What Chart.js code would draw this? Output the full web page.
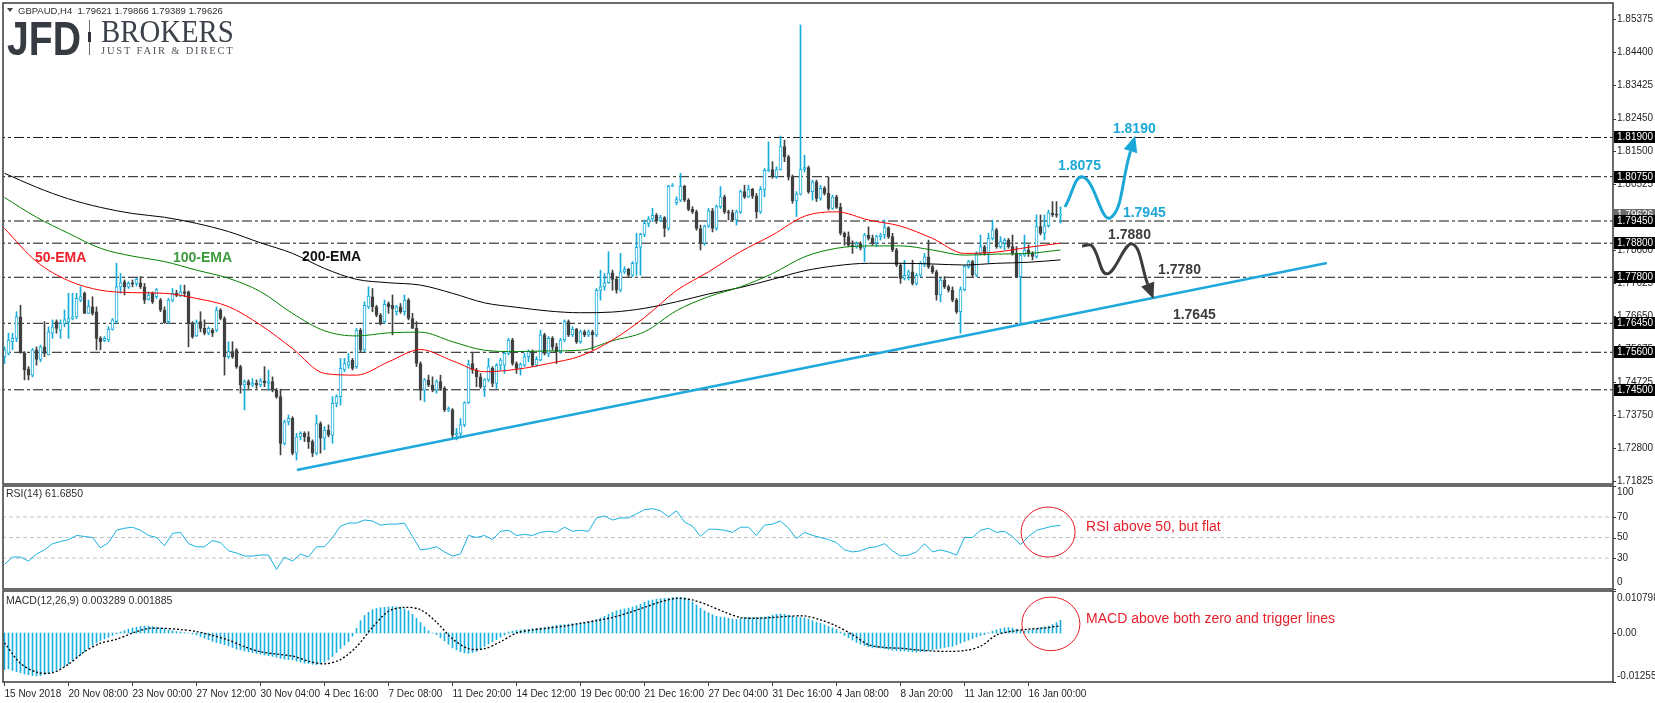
<!DOCTYPE html>
<html>
<head>
<meta charset="utf-8">
<title>GBPAUD H4</title>
<script src="https://cdn.jsdelivr.net/npm/chart.js@4.4.1/dist/chart.umd.min.js"></script>
<style>
  html, body { margin: 0; padding: 0; background: #fff; }
  #wrap { position: relative; width: 1655px; height: 703px; overflow: hidden; background: #fff; }
  #wrap canvas { position: absolute; left: 0; }
  #priceChart { top: 0; }
  #rsiChart { top: 484px; }
  #macdChart { top: 589px; }
</style>
</head>
<body>
<div id="wrap">
  <canvas id="priceChart" width="1655" height="486"></canvas>
  <canvas id="rsiChart" width="1655" height="107"></canvas>
  <canvas id="macdChart" width="1655" height="114"></canvas>
</div>
<script>
// GBPAUD H4, 15 Nov 2018 -> 17 Jan 2019, one value per 4h bar
const opens = [
  1.7547, 1.7557, 1.7591, 1.7601, 1.7664, 1.7557, 1.7510, 1.7493, 1.7567, 1.7539,
  1.7576, 1.7552, 1.7616, 1.7650, 1.7625, 1.7645, 1.7650, 1.7659, 1.7664, 1.7713,
  1.7733, 1.7674, 1.7693, 1.7679, 1.7601, 1.7594, 1.7596, 1.7627, 1.7650, 1.7752,
  1.7767, 1.7752, 1.7764, 1.7762, 1.7764, 1.7752, 1.7715, 1.7733, 1.7723, 1.7713,
  1.7684, 1.7650, 1.7713, 1.7733, 1.7725, 1.7737, 1.7737, 1.7645, 1.7608, 1.7650,
  1.7630, 1.7616, 1.7625, 1.7625, 1.7684, 1.7659, 1.7547, 1.7562, 1.7567, 1.7518,
  1.7464, 1.7474, 1.7464, 1.7469, 1.7464, 1.7476, 1.7469, 1.7474, 1.7449, 1.7430,
  1.7293, 1.7356, 1.7366, 1.7264, 1.7312, 1.7322, 1.7312, 1.7298, 1.7264, 1.7351,
  1.7308, 1.7332, 1.7317, 1.7410, 1.7430, 1.7508, 1.7522, 1.7537, 1.7518, 1.7625,
  1.7567, 1.7693, 1.7723, 1.7693, 1.7669, 1.7650, 1.7703, 1.7698, 1.7679, 1.7693,
  1.7679, 1.7713, 1.7659, 1.7630, 1.7527, 1.7449, 1.7479, 1.7464, 1.7449, 1.7474,
  1.7454, 1.7391, 1.7391, 1.7317, 1.7322, 1.7347, 1.7412, 1.7527, 1.7508, 1.7488,
  1.7459, 1.7479, 1.7513, 1.7469, 1.7522, 1.7522, 1.7557, 1.7596, 1.7527, 1.7513,
  1.7522, 1.7547, 1.7562, 1.7522, 1.7537, 1.7611, 1.7557, 1.7601, 1.7576, 1.7562,
  1.7596, 1.7650, 1.7611, 1.7627, 1.7591, 1.7620, 1.7611, 1.7620, 1.7611, 1.7742,
  1.7752, 1.7764, 1.7793, 1.7774, 1.7742, 1.7796, 1.7803, 1.7786, 1.7821, 1.7868,
  1.7906, 1.7938, 1.7951, 1.7962, 1.7946, 1.7955, 1.7923, 1.8047, 1.7999, 1.8006,
  1.8047, 1.8006, 1.7979, 1.7972, 1.7923, 1.7879, 1.7930, 1.7975, 1.7923, 1.7987,
  1.8016, 1.7972, 1.7969, 1.7948, 1.7972, 1.8031, 1.8016, 1.8038, 1.8018, 1.7972,
  1.8038, 1.8092, 1.8096, 1.8075, 1.8096, 1.8163, 1.8133, 1.8075, 1.8004, 1.8024,
  1.8096, 1.8102, 1.8031, 1.8060, 1.8011, 1.8041, 1.8026, 1.7982, 1.8016, 1.7985,
  1.7909, 1.7899, 1.7874, 1.7870, 1.7879, 1.7865, 1.7904, 1.7894, 1.7881, 1.7899,
  1.7904, 1.7926, 1.7899, 1.7860, 1.7816, 1.7777, 1.7786, 1.7796, 1.7762, 1.7786,
  1.7821, 1.7840, 1.7811, 1.7796, 1.7728, 1.7772, 1.7752, 1.7742, 1.7713, 1.7679,
  1.7744, 1.7811, 1.7826, 1.7786, 1.7850, 1.7869, 1.7851, 1.7894, 1.7919, 1.7870,
  1.7880, 1.7889, 1.7870, 1.7850, 1.7782, 1.7845, 1.7860, 1.7850, 1.7841, 1.7929,
  1.7909, 1.7931, 1.7968, 1.7963, 1.79621
];
const highs = [
  1.7576, 1.7616, 1.7616, 1.7679, 1.7698, 1.7562, 1.7518, 1.7571, 1.7576, 1.7581,
  1.7650, 1.7635, 1.7655, 1.7655, 1.7655, 1.7684, 1.7733, 1.7733, 1.7733, 1.7752,
  1.7737, 1.7713, 1.7723, 1.7693, 1.7606, 1.7606, 1.7635, 1.7659, 1.7821, 1.7791,
  1.7772, 1.7767, 1.7772, 1.7777, 1.7782, 1.7762, 1.7737, 1.7737, 1.7747, 1.7718,
  1.7693, 1.7718, 1.7747, 1.7742, 1.7757, 1.7757, 1.7740, 1.7650, 1.7655, 1.7679,
  1.7655, 1.7635, 1.7630, 1.7693, 1.7688, 1.7664, 1.7591, 1.7591, 1.7571, 1.7522,
  1.7479, 1.7479, 1.7483, 1.7479, 1.7483, 1.7518, 1.7508, 1.7488, 1.7454, 1.7452,
  1.7361, 1.7376, 1.7371, 1.7322, 1.7327, 1.7327, 1.7327, 1.7303, 1.7376, 1.7356,
  1.7342, 1.7347, 1.7430, 1.7435, 1.7542, 1.7542, 1.7557, 1.7542, 1.7630, 1.7630,
  1.7708, 1.7752, 1.7747, 1.7698, 1.7674, 1.7713, 1.7708, 1.7728, 1.7698, 1.7703,
  1.7728, 1.7718, 1.7674, 1.7650, 1.7532, 1.7483, 1.7493, 1.7488, 1.7479, 1.7493,
  1.7459, 1.7400, 1.7395, 1.7337, 1.7366, 1.7415, 1.7537, 1.7557, 1.7513, 1.7498,
  1.7483, 1.7542, 1.7518, 1.7527, 1.7542, 1.7562, 1.7601, 1.7601, 1.7532, 1.7529,
  1.7557, 1.7567, 1.7567, 1.7547, 1.7625, 1.7616, 1.7606, 1.7606, 1.7586, 1.7601,
  1.7655, 1.7655, 1.7635, 1.7630, 1.7625, 1.7625, 1.7625, 1.7625, 1.7747, 1.7801,
  1.7791, 1.7855, 1.7801, 1.7782, 1.7850, 1.7811, 1.7806, 1.7826, 1.7909, 1.7909,
  1.7948, 1.7958, 1.7982, 1.7967, 1.7962, 1.7958, 1.8050, 1.8055, 1.8016, 1.8085,
  1.8050, 1.8011, 1.7987, 1.7977, 1.7933, 1.7933, 1.7982, 1.7982, 1.7992, 1.8046,
  1.8021, 1.7977, 1.7977, 1.7977, 1.8036, 1.8050, 1.8050, 1.8041, 1.8026, 1.8046,
  1.8099, 1.8177, 1.8119, 1.8104, 1.8194, 1.8182, 1.8138, 1.8080, 1.8031, 1.8520,
  1.8138, 1.8106, 1.8065, 1.8065, 1.8050, 1.8046, 1.8075, 1.8021, 1.8021, 1.7997,
  1.7913, 1.7913, 1.7887, 1.7884, 1.7884, 1.7909, 1.7928, 1.7904, 1.7904, 1.7909,
  1.7948, 1.7928, 1.7909, 1.7865, 1.7821, 1.7830, 1.7801, 1.7830, 1.7791, 1.7826,
  1.7850, 1.7889, 1.7816, 1.7801, 1.7777, 1.7782, 1.7757, 1.7752, 1.7718, 1.7752,
  1.7816, 1.7830, 1.7830, 1.7855, 1.7904, 1.7874, 1.7909, 1.7948, 1.7924, 1.7899,
  1.7894, 1.7894, 1.7904, 1.7870, 1.7850, 1.7904, 1.7875, 1.7855, 1.7963, 1.7963,
  1.7963, 1.7977, 1.8002, 1.8002, 1.79866
];
const lows = [
  1.7527, 1.7552, 1.7567, 1.7591, 1.7557, 1.7479, 1.7479, 1.7488, 1.7522, 1.7532,
  1.7547, 1.7552, 1.7601, 1.7616, 1.7601, 1.7635, 1.7601, 1.7655, 1.7659, 1.7708,
  1.7674, 1.7674, 1.7669, 1.7567, 1.7567, 1.7591, 1.7591, 1.7625, 1.7645, 1.7733,
  1.7728, 1.7747, 1.7752, 1.7754, 1.7747, 1.7703, 1.7713, 1.7703, 1.7718, 1.7679,
  1.7645, 1.7645, 1.7708, 1.7723, 1.7723, 1.7723, 1.7576, 1.7601, 1.7606, 1.7620,
  1.7611, 1.7611, 1.7606, 1.7620, 1.7655, 1.7493, 1.7542, 1.7542, 1.7513, 1.7440,
  1.7391, 1.7454, 1.7459, 1.7454, 1.7459, 1.7459, 1.7449, 1.7444, 1.7425, 1.7259,
  1.7288, 1.7347, 1.7259, 1.7244, 1.7303, 1.7298, 1.7278, 1.7254, 1.7259, 1.7264,
  1.7274, 1.7312, 1.7293, 1.7400, 1.7405, 1.7503, 1.7513, 1.7508, 1.7513, 1.7562,
  1.7562, 1.7688, 1.7679, 1.7664, 1.7640, 1.7645, 1.7674, 1.7611, 1.7669, 1.7674,
  1.7669, 1.7655, 1.7630, 1.7518, 1.7420, 1.7415, 1.7459, 1.7444, 1.7440, 1.7449,
  1.7386, 1.7386, 1.7308, 1.7303, 1.7312, 1.7342, 1.7410, 1.7498, 1.7459, 1.7454,
  1.7430, 1.7474, 1.7459, 1.7454, 1.7508, 1.7498, 1.7552, 1.7522, 1.7498, 1.7493,
  1.7518, 1.7532, 1.7518, 1.7518, 1.7535, 1.7552, 1.7547, 1.7567, 1.7527, 1.7557,
  1.7591, 1.7606, 1.7606, 1.7586, 1.7586, 1.7606, 1.7606, 1.7567, 1.7606, 1.7713,
  1.7742, 1.7762, 1.7742, 1.7733, 1.7737, 1.7791, 1.7782, 1.7782, 1.7786, 1.7786,
  1.7899, 1.7928, 1.7943, 1.7938, 1.7943, 1.7899, 1.7918, 1.8046, 1.7992, 1.8002,
  1.8002, 1.7975, 1.7967, 1.7918, 1.7860, 1.7874, 1.7926, 1.7913, 1.7918, 1.7982,
  1.7967, 1.7948, 1.7943, 1.7933, 1.7967, 1.8011, 1.8014, 1.8011, 1.7953, 1.7967,
  1.8016, 1.8089, 1.8070, 1.8070, 1.8094, 1.8119, 1.8065, 1.7997, 1.7958, 1.8021,
  1.8089, 1.8026, 1.8006, 1.8002, 1.8006, 1.8021, 1.7977, 1.7979, 1.7982, 1.7904,
  1.7874, 1.7870, 1.7850, 1.7865, 1.7860, 1.7826, 1.7889, 1.7874, 1.7870, 1.7889,
  1.7894, 1.7894, 1.7855, 1.7811, 1.7762, 1.7772, 1.7772, 1.7757, 1.7757, 1.7782,
  1.7811, 1.7806, 1.7791, 1.7713, 1.7708, 1.7747, 1.7737, 1.7708, 1.7674, 1.7616,
  1.7740, 1.7806, 1.7782, 1.7782, 1.7845, 1.7845, 1.7821, 1.7889, 1.7865, 1.7865,
  1.7860, 1.7865, 1.7845, 1.7780, 1.7645, 1.7841, 1.7841, 1.7831, 1.7836, 1.7904,
  1.7889, 1.7927, 1.7958, 1.7956, 1.79389
];
const closes = [
  1.7567, 1.7596, 1.7601, 1.7664, 1.7562, 1.7508, 1.7493, 1.7567, 1.7539, 1.7576,
  1.7557, 1.7620, 1.7635, 1.7630, 1.7645, 1.7655, 1.7659, 1.7664, 1.7718, 1.7723,
  1.7674, 1.7695, 1.7674, 1.7601, 1.7591, 1.7601, 1.7627, 1.7655, 1.7752, 1.7764,
  1.7752, 1.7762, 1.7760, 1.7774, 1.7752, 1.7713, 1.7728, 1.7708, 1.7744, 1.7684,
  1.7647, 1.7713, 1.7733, 1.7727, 1.7737, 1.7733, 1.7645, 1.7606, 1.7647, 1.7630,
  1.7616, 1.7630, 1.7616, 1.7684, 1.7659, 1.7547, 1.7562, 1.7547, 1.7518, 1.7464,
  1.7474, 1.7464, 1.7469, 1.7464, 1.7476, 1.7471, 1.7474, 1.7449, 1.7430, 1.7293,
  1.7356, 1.7366, 1.7264, 1.7312, 1.7322, 1.7312, 1.7298, 1.7264, 1.7351, 1.7308,
  1.7332, 1.7317, 1.7410, 1.7430, 1.7513, 1.7527, 1.7532, 1.7513, 1.7625, 1.7567,
  1.7698, 1.7725, 1.7693, 1.7669, 1.7645, 1.7701, 1.7693, 1.7688, 1.7693, 1.7679,
  1.7713, 1.7659, 1.7630, 1.7527, 1.7449, 1.7479, 1.7464, 1.7449, 1.7474, 1.7454,
  1.7391, 1.7395, 1.7317, 1.7322, 1.7347, 1.7412, 1.7524, 1.7508, 1.7488, 1.7459,
  1.7479, 1.7518, 1.7469, 1.7522, 1.7537, 1.7557, 1.7596, 1.7527, 1.7513, 1.7524,
  1.7547, 1.7562, 1.7522, 1.7539, 1.7611, 1.7557, 1.7601, 1.7576, 1.7562, 1.7596,
  1.7650, 1.7611, 1.7627, 1.7591, 1.7620, 1.7611, 1.7620, 1.7611, 1.7742, 1.7752,
  1.7764, 1.7793, 1.7774, 1.7742, 1.7796, 1.7803, 1.7786, 1.7821, 1.7868, 1.7906,
  1.7938, 1.7951, 1.7962, 1.7946, 1.7955, 1.7923, 1.8047, 1.8050, 1.8008, 1.8047,
  1.8006, 1.7979, 1.7972, 1.7923, 1.7879, 1.7930, 1.7975, 1.7923, 1.7987, 1.8016,
  1.7972, 1.7969, 1.7948, 1.7972, 1.8031, 1.8016, 1.8038, 1.8018, 1.7972, 1.8038,
  1.8094, 1.8096, 1.8075, 1.8096, 1.8163, 1.8133, 1.8075, 1.8004, 1.8024, 1.8096,
  1.8102, 1.8031, 1.8060, 1.8011, 1.8041, 1.8026, 1.7982, 1.8016, 1.7985, 1.7909,
  1.7899, 1.7874, 1.7870, 1.7879, 1.7865, 1.7904, 1.7894, 1.7881, 1.7899, 1.7904,
  1.7926, 1.7899, 1.7860, 1.7816, 1.7777, 1.7786, 1.7796, 1.7762, 1.7786, 1.7821,
  1.7840, 1.7811, 1.7796, 1.7728, 1.7772, 1.7752, 1.7742, 1.7713, 1.7679, 1.7744,
  1.7811, 1.7826, 1.7786, 1.7850, 1.7870, 1.7851, 1.7894, 1.7919, 1.7870, 1.7885,
  1.7889, 1.7870, 1.7850, 1.7782, 1.7845, 1.7860, 1.7850, 1.7841, 1.7929, 1.7909,
  1.7931, 1.7970, 1.7963, 1.7962, 1.79626
];

// moving averages read every 8 bars
const emaStep = 8;
const ema50 = [1.7923, 1.7826, 1.7770, 1.7742, 1.7735, 1.7733, 1.7718, 1.7694, 1.7640, 1.7571,
  1.7498, 1.7493, 1.7532, 1.7568, 1.7535, 1.7503, 1.7510, 1.7527, 1.7549, 1.7596,
  1.7662, 1.7741, 1.7796, 1.7855, 1.7904, 1.7959, 1.7972, 1.7948, 1.7930, 1.7894,
  1.7850, 1.7854, 1.7868, 1.7880];
const ema100 = [1.8014, 1.7956, 1.7909, 1.7865, 1.7842, 1.7826, 1.7801, 1.7777, 1.7738, 1.7674,
  1.7623, 1.7608, 1.7617, 1.7619, 1.7591, 1.7566, 1.7562, 1.7564, 1.7566, 1.7594,
  1.7620, 1.7682, 1.7723, 1.7752, 1.7791, 1.7840, 1.7865, 1.7872, 1.7872, 1.7860,
  1.7845, 1.7848, 1.7850, 1.7860];
const ema200 = [1.8085, 1.8044, 1.8010, 1.7985, 1.7967, 1.7956, 1.7938, 1.7914, 1.7881, 1.7850,
  1.7806, 1.7774, 1.7764, 1.7757, 1.7733, 1.7705, 1.7692, 1.7681, 1.7676, 1.7678,
  1.7689, 1.7708, 1.7731, 1.7750, 1.7774, 1.7799, 1.7814, 1.7821, 1.7821, 1.7819,
  1.7816, 1.7821, 1.7824, 1.7831];

const levels = [1.8190, 1.8075, 1.7945, 1.7880, 1.7780, 1.7645, 1.7560, 1.7450];
const lastPrice = 1.79626;
const priceTicks = [1.85375, 1.84400, 1.83425, 1.82450, 1.81500, 1.80525, 1.79550, 1.78600,
  1.77625, 1.76650, 1.75675, 1.74725, 1.73750, 1.72800, 1.71825];

// rising trend line (bar index, price)
const trendBars = [73.1, 330.6];
const trendPrices = [1.7215, 1.7822];

// RSI(14) read every 2 bars
const rsiStep = 2;
const rsi = [
  24, 31, 31, 27, 34, 38, 44, 46, 48, 52,
  51, 50, 40, 45, 57, 59, 60, 57, 52, 50,
  42, 54, 55, 44, 41, 41, 47, 45, 37, 35,
  32, 32, 33, 33, 19, 31, 27, 34, 31, 41,
  41, 50, 61, 64, 64, 67, 66, 62, 63, 63,
  64, 51, 38, 39, 41, 36, 32, 34, 52, 50,
  52, 48, 56, 57, 52, 53, 52, 55, 56, 55,
  60, 56, 57, 56, 69, 71, 67, 69, 69, 73,
  77, 78, 76, 70, 76, 65, 61, 51, 58, 58,
  57, 55, 60, 60, 52, 62, 63, 66, 59, 49,
  55, 52, 50, 48, 45, 38, 36, 37, 40, 41,
  44, 37, 32, 33, 36, 44, 36, 38, 36, 33,
  50, 50, 57, 59, 55, 56, 51, 43, 51, 57,
  59, 61, 61.685
];
const rsiLevels = [30, 50, 70];
const rsiTicks = [100, 70, 50, 30, 0];

// MACD(12,26,9): main as histogram (every bar), signal read every 4 bars
const macdHist = [
  -0.0094, -0.0092, -0.0096, -0.0099, -0.0102, -0.0105, -0.0107, -0.0109, -0.0110, -0.0109,
  -0.0106, -0.0103, -0.0099, -0.0095, -0.0091, -0.0085, -0.0079, -0.0071, -0.0063, -0.0056,
  -0.0048, -0.0039, -0.0031, -0.0025, -0.0019, -0.0015, -0.0011, -0.0006, -0.0002, 0.0003,
  0.0006, 0.0010, 0.0013, 0.0015, 0.0017, 0.0018, 0.0018, 0.0017, 0.0015, 0.0013,
  0.0011, 0.0008, 0.0006, 0.0004, 0.0003, 0.0001, 0.0000, -0.0002, -0.0005, -0.0009,
  -0.0013, -0.0017, -0.0021, -0.0024, -0.0027, -0.0030, -0.0033, -0.0037, -0.0041, -0.0043,
  -0.0046, -0.0048, -0.0050, -0.0052, -0.0054, -0.0056, -0.0058, -0.0060, -0.0062, -0.0065,
  -0.0067, -0.0068, -0.0069, -0.0072, -0.0075, -0.0077, -0.0078, -0.0080, -0.0081, -0.0079,
  -0.0074, -0.0069, -0.0060, -0.0050, -0.0040, -0.0031, -0.0022, -0.0008, 0.0012, 0.0032,
  0.0045, 0.0053, 0.0060, 0.0063, 0.0065, 0.0066, 0.0067, 0.0068, 0.0067, 0.0066,
  0.0062, 0.0057, 0.0048, 0.0038, 0.0027, 0.0016, 0.0006, 0.0000, -0.0004, -0.0012,
  -0.0020, -0.0029, -0.0038, -0.0043, -0.0048, -0.0051, -0.0052, -0.0050, -0.0047, -0.0041,
  -0.0034, -0.0028, -0.0022, -0.0017, -0.0011, -0.0005, 0.0003, 0.0005, 0.0007, 0.0008,
  0.0009, 0.0010, 0.0011, 0.0012, 0.0013, 0.0015, 0.0016, 0.0018, 0.0020, 0.0021,
  0.0022, 0.0023, 0.0024, 0.0025, 0.0026, 0.0027, 0.0029, 0.0032, 0.0035, 0.0039,
  0.0043, 0.0048, 0.0053, 0.0057, 0.0060, 0.0062, 0.0064, 0.0067, 0.0070, 0.0074,
  0.0079, 0.0083, 0.0085, 0.0087, 0.0088, 0.0089, 0.0090, 0.0091, 0.0092, 0.0092,
  0.0091, 0.0088, 0.0080, 0.0072, 0.0064, 0.0057, 0.0052, 0.0047, 0.0043, 0.0041,
  0.0040, 0.0038, 0.0036, 0.0035, 0.0037, 0.0040, 0.0040, 0.0039, 0.0040, 0.0041,
  0.0041, 0.0043, 0.0046, 0.0048, 0.0049, 0.0048, 0.0046, 0.0043, 0.0041, 0.0040,
  0.0039, 0.0036, 0.0032, 0.0028, 0.0025, 0.0021, 0.0017, 0.0013, 0.0009, 0.0003,
  -0.0006, -0.0012, -0.0018, -0.0024, -0.0028, -0.0032, -0.0035, -0.0037, -0.0038, -0.0038,
  -0.0040, -0.0042, -0.0044, -0.0045, -0.0046, -0.0046, -0.0047, -0.0048, -0.0049, -0.0048,
  -0.0047, -0.0045, -0.0043, -0.0041, -0.0039, -0.0037, -0.0035, -0.0034, -0.0030, -0.0026,
  -0.0022, -0.0018, -0.0014, -0.0010, -0.0006, -0.0004, 0.0001, 0.0005, 0.0008, 0.0011,
  0.0013, 0.0014, 0.0013, 0.0010, 0.0006, 0.0005, 0.0007, 0.0009, 0.0011, 0.0014,
  0.0016, 0.0018, 0.0022, 0.0027, 0.003289
];
const signalStep = 4;
const macdSignal = [
  -0.0025, -0.0078, -0.0100, -0.0102, -0.0080, -0.0048, -0.0026, -0.0016, 0.0000, 0.0012,
  0.0012, 0.0009, 0.0004, -0.0006, -0.0018, -0.0035, -0.0048, -0.0054, -0.0059, -0.0072,
  -0.0079, -0.0068, -0.0035, 0.0015, 0.0056, 0.0066, 0.0060, 0.0028, -0.0015, -0.0040,
  -0.0040, -0.0022, 0.0000, 0.0008, 0.0013, 0.0018, 0.0025, 0.0032, 0.0040, 0.0052,
  0.0066, 0.0080, 0.0089, 0.0085, 0.0071, 0.0054, 0.0040, 0.0038, 0.0040, 0.0043,
  0.0044, 0.0034, 0.0018, -0.0004, -0.0030, -0.0037, -0.0039, -0.0043, -0.0046, -0.0047,
  -0.0045, -0.0034, -0.0005, 0.0005, 0.0010, 0.0013, 0.001885
];
const macdTicks = [0.010798, 0, -0.012557];

// time axis: one label every 16 bars
const timeStep = 16;
const timeLabels = ['15 Nov 2018', '20 Nov 08:00', '23 Nov 00:00', '27 Nov 12:00', '30 Nov 04:00',
  '4 Dec 16:00', '7 Dec 08:00', '11 Dec 20:00', '14 Dec 12:00', '19 Dec 00:00', '21 Dec 16:00',
  '27 Dec 04:00', '31 Dec 16:00', '4 Jan 08:00', '8 Jan 20:00', '11 Jan 12:00', '16 Jan 00:00'];

// drawn scenario paths (bar index, price)
const upWave = { bars: [265.1, 269.6, 276.4, 281.5], prices: [1.7986, 1.8074, 1.7954, 1.8150] };
const downWave = { bars: [269.4, 271.9, 275.6, 281.9, 285.8], prices: [1.7872, 1.7872, 1.7790, 1.7878, 1.7760] };

const BULL = '#17acdb';
const BEAR = '#404040';
const CYAN = '#1ba8d6';
const DARK = '#3c3c3c';
const RED = '#e61f2b';
const FONT = '"Liberation Sans", Arial, sans-serif';
const X_MIN = -0.375;
const X_MAX = 402.125;

const notes = [
  { text: '50-EMA', bar: 7.6, price: 1.7837, color: '#f0202a' },
  { text: '100-EMA', bar: 42.1, price: 1.7837, color: '#3c9c3c' },
  { text: '200-EMA', bar: 74.4, price: 1.7840, color: '#111111' },
  { text: '1.8190', bar: 277.1, price: 1.8215, color: CYAN },
  { text: '1.8075', bar: 263.4, price: 1.8106, color: CYAN },
  { text: '1.7945', bar: 279.6, price: 1.7969, color: CYAN },
  { text: '1.7880', bar: 275.9, price: 1.7904, color: DARK },
  { text: '1.7780', bar: 288.4, price: 1.7801, color: DARK },
  { text: '1.7645', bar: 292.1, price: 1.7670, color: DARK }
];
const rsiNote = { bar: 260.9, value: 55.3, rBars: 6.75, rValue: 24.3, text: 'RSI above 50, but flat', textBar: 270.4, textValue: 60.2 };
const macdNote = { bar: 261.6, value: 0.00236, rBars: 7.25, rValue: 0.00688, text: 'MACD above both zero and trigger lines', textBar: 270.4, textValue: 0.00353 };

Chart.defaults.font.family = FONT;

const stepPoints = (arr, step) => arr.map((y, k) => ({ x: k * step, y }));
const pairPoints = (xs, ys) => xs.map((x, k) => ({ x, y: ys[k] }));
const flatLine = v => [{ x: X_MIN - 2, y: v }, { x: X_MAX + 2, y: v }];
const candleUp = i => closes[i] >= opens[i];

function drawFrame(chart) {
  const { ctx, chartArea: a } = chart;
  ctx.save();
  ctx.strokeStyle = '#3a3a3a';
  ctx.lineWidth = 1.5;
  ctx.strokeRect(a.left, a.top, a.right - a.left, a.bottom - a.top);
  ctx.restore();
}

function drawAxisLabels(chart, values, fmt, padTop, padBottom) {
  const { ctx, chartArea: a, scales: { y } } = chart;
  ctx.save();
  ctx.font = '10px ' + FONT;
  ctx.fillStyle = '#1f1f1f';
  ctx.strokeStyle = '#3a3a3a';
  ctx.lineWidth = 1;
  ctx.textBaseline = 'middle';
  values.forEach(v => {
    const py = y.getPixelForValue(v);
    ctx.beginPath();
    ctx.moveTo(a.right, Math.round(py) + 0.5);
    ctx.lineTo(a.right + 3, Math.round(py) + 0.5);
    ctx.stroke();
    const ty = Math.min(Math.max(py, a.top + padTop), a.bottom - padBottom);
    ctx.fillText(fmt(v), a.right + 4, ty);
  });
  ctx.restore();
}

function drawNoteCircle(chart, note) {
  const { ctx, scales: { x, y } } = chart;
  const cx = x.getPixelForValue(note.bar);
  const cy = y.getPixelForValue(note.value);
  const rx = x.getPixelForValue(note.bar + note.rBars) - cx;
  const ry = y.getPixelForValue(note.value - note.rValue) - cy;
  ctx.save();
  ctx.strokeStyle = RED;
  ctx.lineWidth = 1;
  ctx.beginPath();
  ctx.ellipse(cx, cy, rx, ry, 0, 0, Math.PI * 2);
  ctx.stroke();
  ctx.fillStyle = RED;
  ctx.font = '14px ' + FONT;
  ctx.textBaseline = 'middle';
  ctx.fillText(note.text, x.getPixelForValue(note.textBar), y.getPixelForValue(note.textValue));
  ctx.restore();
}

function arrowHead(ctx, points, color) {
  const tip = points[points.length - 1];
  const prev = points[points.length - 2];
  const fx = tip.cp1x !== undefined ? tip.cp1x : prev.x;
  const fy = tip.cp1y !== undefined ? tip.cp1y : prev.y;
  const a = Math.atan2(tip.y - fy, tip.x - fx);
  const len = 16, half = 7;
  const ex = tip.x + Math.cos(a) * len, ey = tip.y + Math.sin(a) * len;
  ctx.fillStyle = color;
  ctx.beginPath();
  ctx.moveTo(ex, ey);
  ctx.lineTo(tip.x + half * Math.sin(a), tip.y - half * Math.cos(a));
  ctx.lineTo(tip.x - half * Math.sin(a), tip.y + half * Math.cos(a));
  ctx.closePath();
  ctx.fill();
}

const mainDecor = {
  id: 'mainDecor',
  afterDatasetsDraw(chart) {
    const { ctx, scales: { x, y } } = chart;
    ctx.save();
    chart.data.datasets.forEach((ds, k) => {
      if (ds.label === 'upWave') arrowHead(ctx, chart.getDatasetMeta(k).data, CYAN);
      if (ds.label === 'downWave') arrowHead(ctx, chart.getDatasetMeta(k).data, DARK);
    });
    ctx.font = 'bold 14px ' + FONT;
    ctx.textBaseline = 'middle';
    notes.forEach(n => {
      ctx.fillStyle = n.color;
      ctx.fillText(n.text, x.getPixelForValue(n.bar), y.getPixelForValue(n.price));
    });
    ctx.restore();
  },
  afterDraw(chart) {
    const { ctx, chartArea: a, scales: { y } } = chart;
    drawAxisLabels(chart, priceTicks, v => v.toFixed(5), 4, 3);

    ctx.save();
    ctx.font = '10px ' + FONT;
    ctx.textBaseline = 'middle';
    const box = (v, fill) => {
      const py = Math.round(y.getPixelForValue(v));
      ctx.fillStyle = fill;
      ctx.fillRect(a.right + 1, py - 6, 42, 12);
      ctx.fillStyle = '#ffffff';
      ctx.fillText(v.toFixed(5), a.right + 4, py + 0.5);
    };
    box(lastPrice, '#6b6b6b');
    levels.forEach(v => box(v, '#000000'));
    ctx.restore();

    drawFrame(chart);

    // symbol line and broker logo
    ctx.save();
    ctx.fillStyle = '#444';
    ctx.beginPath();
    ctx.moveTo(a.left + 4, a.top + 5);
    ctx.lineTo(a.left + 10, a.top + 5);
    ctx.lineTo(a.left + 7, a.top + 9);
    ctx.closePath();
    ctx.fill();
    ctx.fillStyle = '#2f2f2f';
    ctx.font = '9.5px ' + FONT;
    ctx.fillText('GBPAUD,H4  1.79621 1.79866 1.79389 1.79626', a.left + 15, a.top + 11);

    ctx.fillStyle = '#363b42';
    ctx.font = 'bold 49px ' + FONT;
    ctx.translate(a.left + 4, a.top + 52);
    ctx.scale(0.8, 1);
    ctx.fillText('JFD', 0, 0);
    ctx.restore();

    ctx.save();
    ctx.fillStyle = '#6a6e74';
    ctx.fillRect(a.left + 86, a.top + 17, 1, 35);
    ctx.fillStyle = '#30343a';
    ctx.fillRect(a.left + 85, a.top + 29, 3, 10);
    ctx.fillStyle = '#3d424a';
    ctx.font = '32px "Liberation Serif", "DejaVu Serif", serif';
    ctx.translate(a.left + 98, a.top + 39);
    ctx.scale(0.9, 1);
    ctx.fillText('BROKERS', 0, 0);
    ctx.restore();

    ctx.save();
    ctx.fillStyle = '#50555c';
    ctx.font = '10.5px "Liberation Serif", "DejaVu Serif", serif';
    ctx.letterSpacing = '1.8px';
    ctx.fillText('JUST FAIR & DIRECT', a.left + 98, a.top + 51);
    ctx.restore();
  }
};

const rsiDecor = {
  id: 'rsiDecor',
  afterDraw(chart) {
    const { ctx, chartArea: a } = chart;
    drawAxisLabels(chart, rsiTicks, v => String(v), 6, 7);
    drawFrame(chart);
    ctx.save();
    ctx.fillStyle = '#2f2f2f';
    ctx.font = '10.5px ' + FONT;
    ctx.fillText('RSI(14) 61.6850', a.left + 3, a.top + 11);
    ctx.restore();
    drawNoteCircle(chart, rsiNote);
  }
};

const macdDecor = {
  id: 'macdDecor',
  afterDraw(chart) {
    const { ctx, chartArea: a } = chart;
    drawAxisLabels(chart, macdTicks, v => (v === 0 ? '0.00' : v.toFixed(6)), 7, 6);
    drawFrame(chart);
    ctx.save();
    ctx.fillStyle = '#2f2f2f';
    ctx.font = '10.5px ' + FONT;
    ctx.fillText('MACD(12,26,9) 0.003289 0.001885', a.left + 3, a.top + 13);
    ctx.restore();
    drawNoteCircle(chart, macdNote);
  }
};

const baseOptions = (yMin, yMax, padding) => ({
  responsive: false,
  animation: false,
  devicePixelRatio: 1,
  events: [],
  layout: { padding },
  plugins: { legend: { display: false }, tooltip: { enabled: false } },
  scales: {
    x: { type: 'linear', min: X_MIN, max: X_MAX, offset: false, display: false },
    y: {
      type: 'linear', position: 'right', min: yMin, max: yMax,
      afterFit: s => { s.width = 42; },
      ticks: { display: false }, grid: { display: false }, border: { display: false }
    }
  }
});

const emaSet = (arr, color) => ({
  type: 'line', data: stepPoints(arr, emaStep), borderColor: color, borderWidth: 1,
  pointRadius: 0, cubicInterpolationMode: 'monotone', order: 0
});

new Chart(document.getElementById('priceChart'), {
  type: 'bar',
  data: {
    datasets: [
      emaSet(ema50, '#ff0000'),
      emaSet(ema100, '#008000'),
      emaSet(ema200, '#000000'),
      { type: 'line', label: 'trend', data: pairPoints(trendBars, trendPrices), borderColor: '#1fa8dc', borderWidth: 2.5, pointRadius: 0, order: -1 },
      { type: 'line', label: 'upWave', data: pairPoints(upWave.bars, upWave.prices), borderColor: CYAN, borderWidth: 3, tension: 0.45, pointRadius: 0, order: -1 },
      { type: 'line', label: 'downWave', data: pairPoints(downWave.bars, downWave.prices), borderColor: DARK, borderWidth: 3, tension: 0.4, pointRadius: 0, order: -1 },
      {
        label: 'bodies', data: opens.map((o, i) => ({ x: i, y: [o, closes[i]] })),
        backgroundColor: c => (candleUp(c.dataIndex) ? '#ffffff' : BEAR),
        borderColor: c => (candleUp(c.dataIndex) ? BULL : BEAR),
        borderWidth: 1, borderSkipped: false, barThickness: 3, minBarLength: 1, grouped: false, order: 1
      },
      {
        label: 'wicks', data: lows.map((l, i) => ({ x: i, y: [l, highs[i]] })),
        backgroundColor: c => (candleUp(c.dataIndex) ? BULL : BEAR),
        borderWidth: 0, barThickness: 1, minBarLength: 1, grouped: false, order: 2
      },
      ...levels.map(v => ({
        type: 'line', label: 'level', data: flatLine(v), borderColor: '#151515', borderWidth: 1,
        borderDash: [10, 3, 3, 3], pointRadius: 0, order: 3
      }))
    ]
  },
  options: baseOptions(1.71737, 1.85844, { left: 3, top: 3, right: 0, bottom: 2 }),
  plugins: [mainDecor]
});

new Chart(document.getElementById('rsiChart'), {
  type: 'line',
  data: {
    datasets: [
      { data: stepPoints(rsi, rsiStep), borderColor: '#1ab0e0', borderWidth: 1, pointRadius: 0, tension: 0, order: 0 },
      ...rsiLevels.map(v => ({ data: flatLine(v), borderColor: '#c2c2c2', borderWidth: 1, borderDash: [4, 3], pointRadius: 0, order: 1 }))
    ]
  },
  options: baseOptions(0, 100, { left: 3, top: 2, right: 0, bottom: 2 }),
  plugins: [rsiDecor]
});

const macdOptions = baseOptions(-0.012557, 0.010798, { left: 3, top: 2, right: 0, bottom: 0 });
macdOptions.scales.x = {
  type: 'linear', min: X_MIN, max: X_MAX, offset: false, display: true,
  afterBuildTicks: s => { s.ticks = timeLabels.map((_, k) => ({ value: k * timeStep })); },
  afterFit: s => { s.height = 21; },
  ticks: {
    autoSkip: false, maxRotation: 0, minRotation: 0, align: 'start', padding: 2,
    color: '#1f1f1f', font: { size: 10, family: FONT },
    callback: (v, k) => timeLabels[k]
  },
  grid: { drawOnChartArea: false, drawTicks: true, tickLength: 4, color: '#3a3a3a', offset: false },
  border: { display: false }
};

new Chart(document.getElementById('macdChart'), {
  type: 'bar',
  data: {
    datasets: [
      { type: 'line', data: stepPoints(macdSignal, signalStep), borderColor: '#000000', borderWidth: 1.3, borderDash: [2, 2], pointRadius: 0, tension: 0.3, order: 0 },
      { data: macdHist.map((v, i) => ({ x: i, y: v })), backgroundColor: '#1ab0e0', barThickness: 1, grouped: false, order: 1 }
    ]
  },
  options: macdOptions,
  plugins: [macdDecor]
});
</script>
</body>
</html>
